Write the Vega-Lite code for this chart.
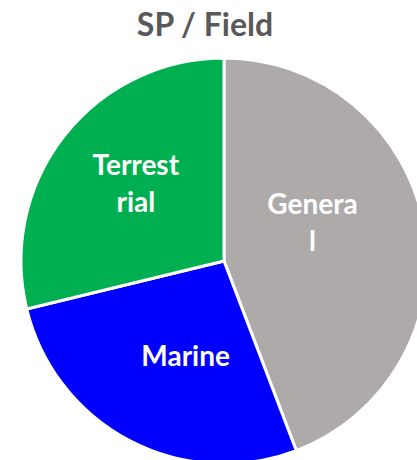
{
  "$schema": "https://vega.github.io/schema/vega-lite/v6.json",
  "autosize": {"type": "none"},
  "width": 406,
  "height": 406,
  "padding": {"left": 21, "top": 58, "right": 0, "bottom": 0},
  "background": "white",
  "title": {
    "text": "SP / Field",
    "font": "Lato",
    "fontSize": 32,
    "fontWeight": "bold",
    "color": "#595959",
    "anchor": "middle",
    "dx": -19,
    "dy": 37,
    "baseline": "alphabetic",
    "offset": 21
  },
  "data": {
    "values": [
      {"category": "General", "label": "Genera\nl", "value": 44.2, "order": 1},
      {"category": "Marine", "label": "Marine", "value": 27.0, "order": 2},
      {"category": "Terrestrial", "label": "Terrest\nrial", "value": 28.8, "order": 3}
    ]
  },
  "encoding": {
    "theta": {"field": "value", "type": "quantitative", "stack": true},
    "order": {"field": "order", "type": "quantitative"}
  },
  "layer": [
    {
      "mark": {"type": "arc", "stroke": "white", "strokeWidth": 3},
      "encoding": {
        "color": {
          "field": "category",
          "type": "nominal",
          "scale": {"domain": ["General", "Marine", "Terrestrial"], "range": ["#AEAAAA", "#0000FF", "#00B050"]},
          "legend": null
        }
      }
    },
    {
      "mark": {"type": "text", "radius": 95, "dx": -5, "dy": -38, "font": "Lato", "fontSize": 28, "fontWeight": "bold", "fill": "white", "lineBreak": "\n", "lineHeight": 37, "align": "center", "baseline": "middle"},
      "encoding": {
        "text": {"field": "label", "type": "nominal"},
        "opacity": {"condition": {"test": "datum.category === 'General'", "value": 1}, "value": 0}
      }
    },
    {
      "mark": {"type": "text", "radius": 116, "dx": 3, "dy": -22, "font": "Lato", "fontSize": 28, "fontWeight": "bold", "fill": "white", "lineBreak": "\n", "lineHeight": 37, "align": "center", "baseline": "middle"},
      "encoding": {
        "text": {"field": "label", "type": "nominal"},
        "opacity": {"condition": {"test": "datum.category === 'Terrestrial'", "value": 1}, "value": 0}
      }
    },
    {
      "mark": {"type": "text", "radius": 104, "dx": 10, "dy": 5, "font": "Lato", "fontSize": 28, "fontWeight": "bold", "fill": "white", "lineBreak": "\n", "lineHeight": 37, "align": "center", "baseline": "middle"},
      "encoding": {
        "text": {"field": "label", "type": "nominal"},
        "opacity": {"condition": {"test": "datum.category === 'Marine'", "value": 1}, "value": 0}
      }
    }
  ]
}
